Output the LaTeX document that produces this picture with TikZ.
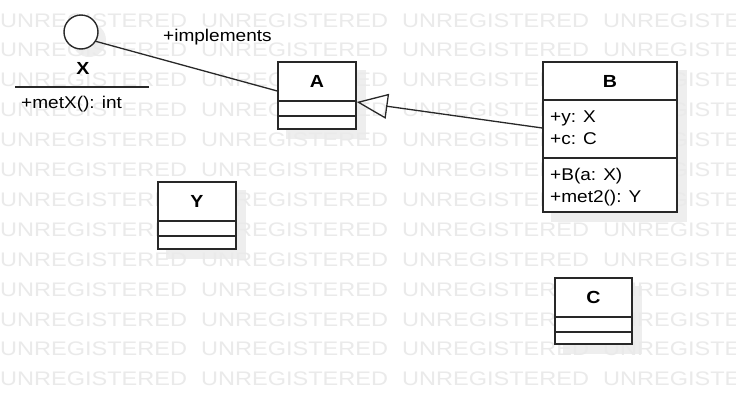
\documentclass[tikz,border=0pt]{standalone}
\usepackage{fontspec}
\setmainfont{Liberation Sans}[FakeStretch=1.12]
\newfontfamily\wmfont{Liberation Sans}[FakeStretch=1.2]
\usetikzlibrary{arrows.meta}
\usetikzlibrary{calc}
\definecolor{wmgray}{RGB}{234,234,234}
\definecolor{shadowgray}{RGB}{238,238,238}
\definecolor{linegray}{RGB}{40,40,40}
\tikzset{classbox/.style = {draw=linegray, fill=white, line width=1.4pt, inner sep=0}}
\tikzset{classname/.style = {font=\fontsize{17.5}{21}\selectfont\bfseries, inner sep=0}}
\tikzset{member/.style = {font=\fontsize{17}{21}\selectfont, inner sep=0, anchor=base west}}
\tikzset{watermark/.style = {font=\wmfont\fontsize{19.6}{22}\selectfont, text=wmgray, inner sep=0, anchor=base west}}
\tikzset{boxshadow/.style = {fill=shadowgray}}
\tikzset{divider/.style = {draw=linegray, line width=1.2pt}}

\begin{document}
\begin{tikzpicture}[x=1pt, y=-1pt]
    \useasboundingbox (0, 0) rectangle (736, 405);
    \clip (0, 0) rectangle (736, 405);
    \fill [white] (0, 0) rectangle (736, 405);

    \fill [boxshadow] (286, 70) rectangle (366, 139);
    \fill [boxshadow] (551, 70) rectangle (687, 222);
    \fill [boxshadow] (166, 190) rectangle (246, 259);
    \fill [boxshadow] (563, 286) rectangle (642, 354);
    \fill [boxshadow] (89, 40) circle [radius=17];

    \foreach \r in {0,...,12} {
        \foreach \c in {0,...,3} {
            \node [watermark] (wm-\r-\c) at (\c*201, 27+\r*29.9) {UNREGISTERED};
        }
    }

    \node [classbox, circle, minimum size=34] (X) at (81, 32) {};
    \node [classname] (Xname) at (83, 68) {X};
    \draw [divider] (15, 87) -- (149, 87);
    \node [member] (metX) at (21, 108) {+metX(): int};

    \node [classbox, minimum width=78, minimum height=67] (A) at (317, 95.5) {};
    \node [classname] (Aname) at (317, 81.5) {A};
    \draw [divider] (A.west |- 0, 101) -- (A.east |- 0, 101);
    \draw [divider] (A.west |- 0, 116) -- (A.east |- 0, 116);

    \node [classbox, minimum width=134, minimum height=150] (B) at (610, 137) {};
    \node [classname] (Bname) at (610, 81) {B};
    \draw [divider] (B.west |- 0, 100) -- (B.east |- 0, 100);
    \draw [divider] (B.west |- 0, 158) -- (B.east |- 0, 158);
    \node [member] (By) at (550, 122) {+y: X};
    \node [member] (Bc) at (550, 144) {+c: C};
    \node [member] (Bctor) at (550, 180) {+B(a: X)};
    \node [member] (Bmet) at (550, 202) {+met2(): Y};

    \node [classbox, minimum width=78, minimum height=67] (Y) at (197, 215.5) {};
    \node [classname] (Yname) at (197, 201.5) {Y};
    \draw [divider] (Y.west |- 0, 221) -- (Y.east |- 0, 221);
    \draw [divider] (Y.west |- 0, 236) -- (Y.east |- 0, 236);

    \node [classbox, minimum width=77, minimum height=66] (C) at (593.5, 311) {};
    \node [classname] (Cname) at (593.5, 297.5) {C};
    \draw [divider] (C.west |- 0, 317) -- (C.east |- 0, 317);
    \draw [divider] (C.west |- 0, 332) -- (C.east |- 0, 332);

    \draw [line width=1.3pt, draw=linegray] (X.-32) -- ([yshift=4.5pt]A.west);
    \node [member] (impl) at (163, 41) {+implements};

    \draw [line width=1.3pt, draw=linegray, -{Triangle[open, length=31pt, width=25pt]}] ([yshift=9pt]B.west) -- ([yshift=-6.5pt]A.east);
  \end{tikzpicture}
\end{document}
